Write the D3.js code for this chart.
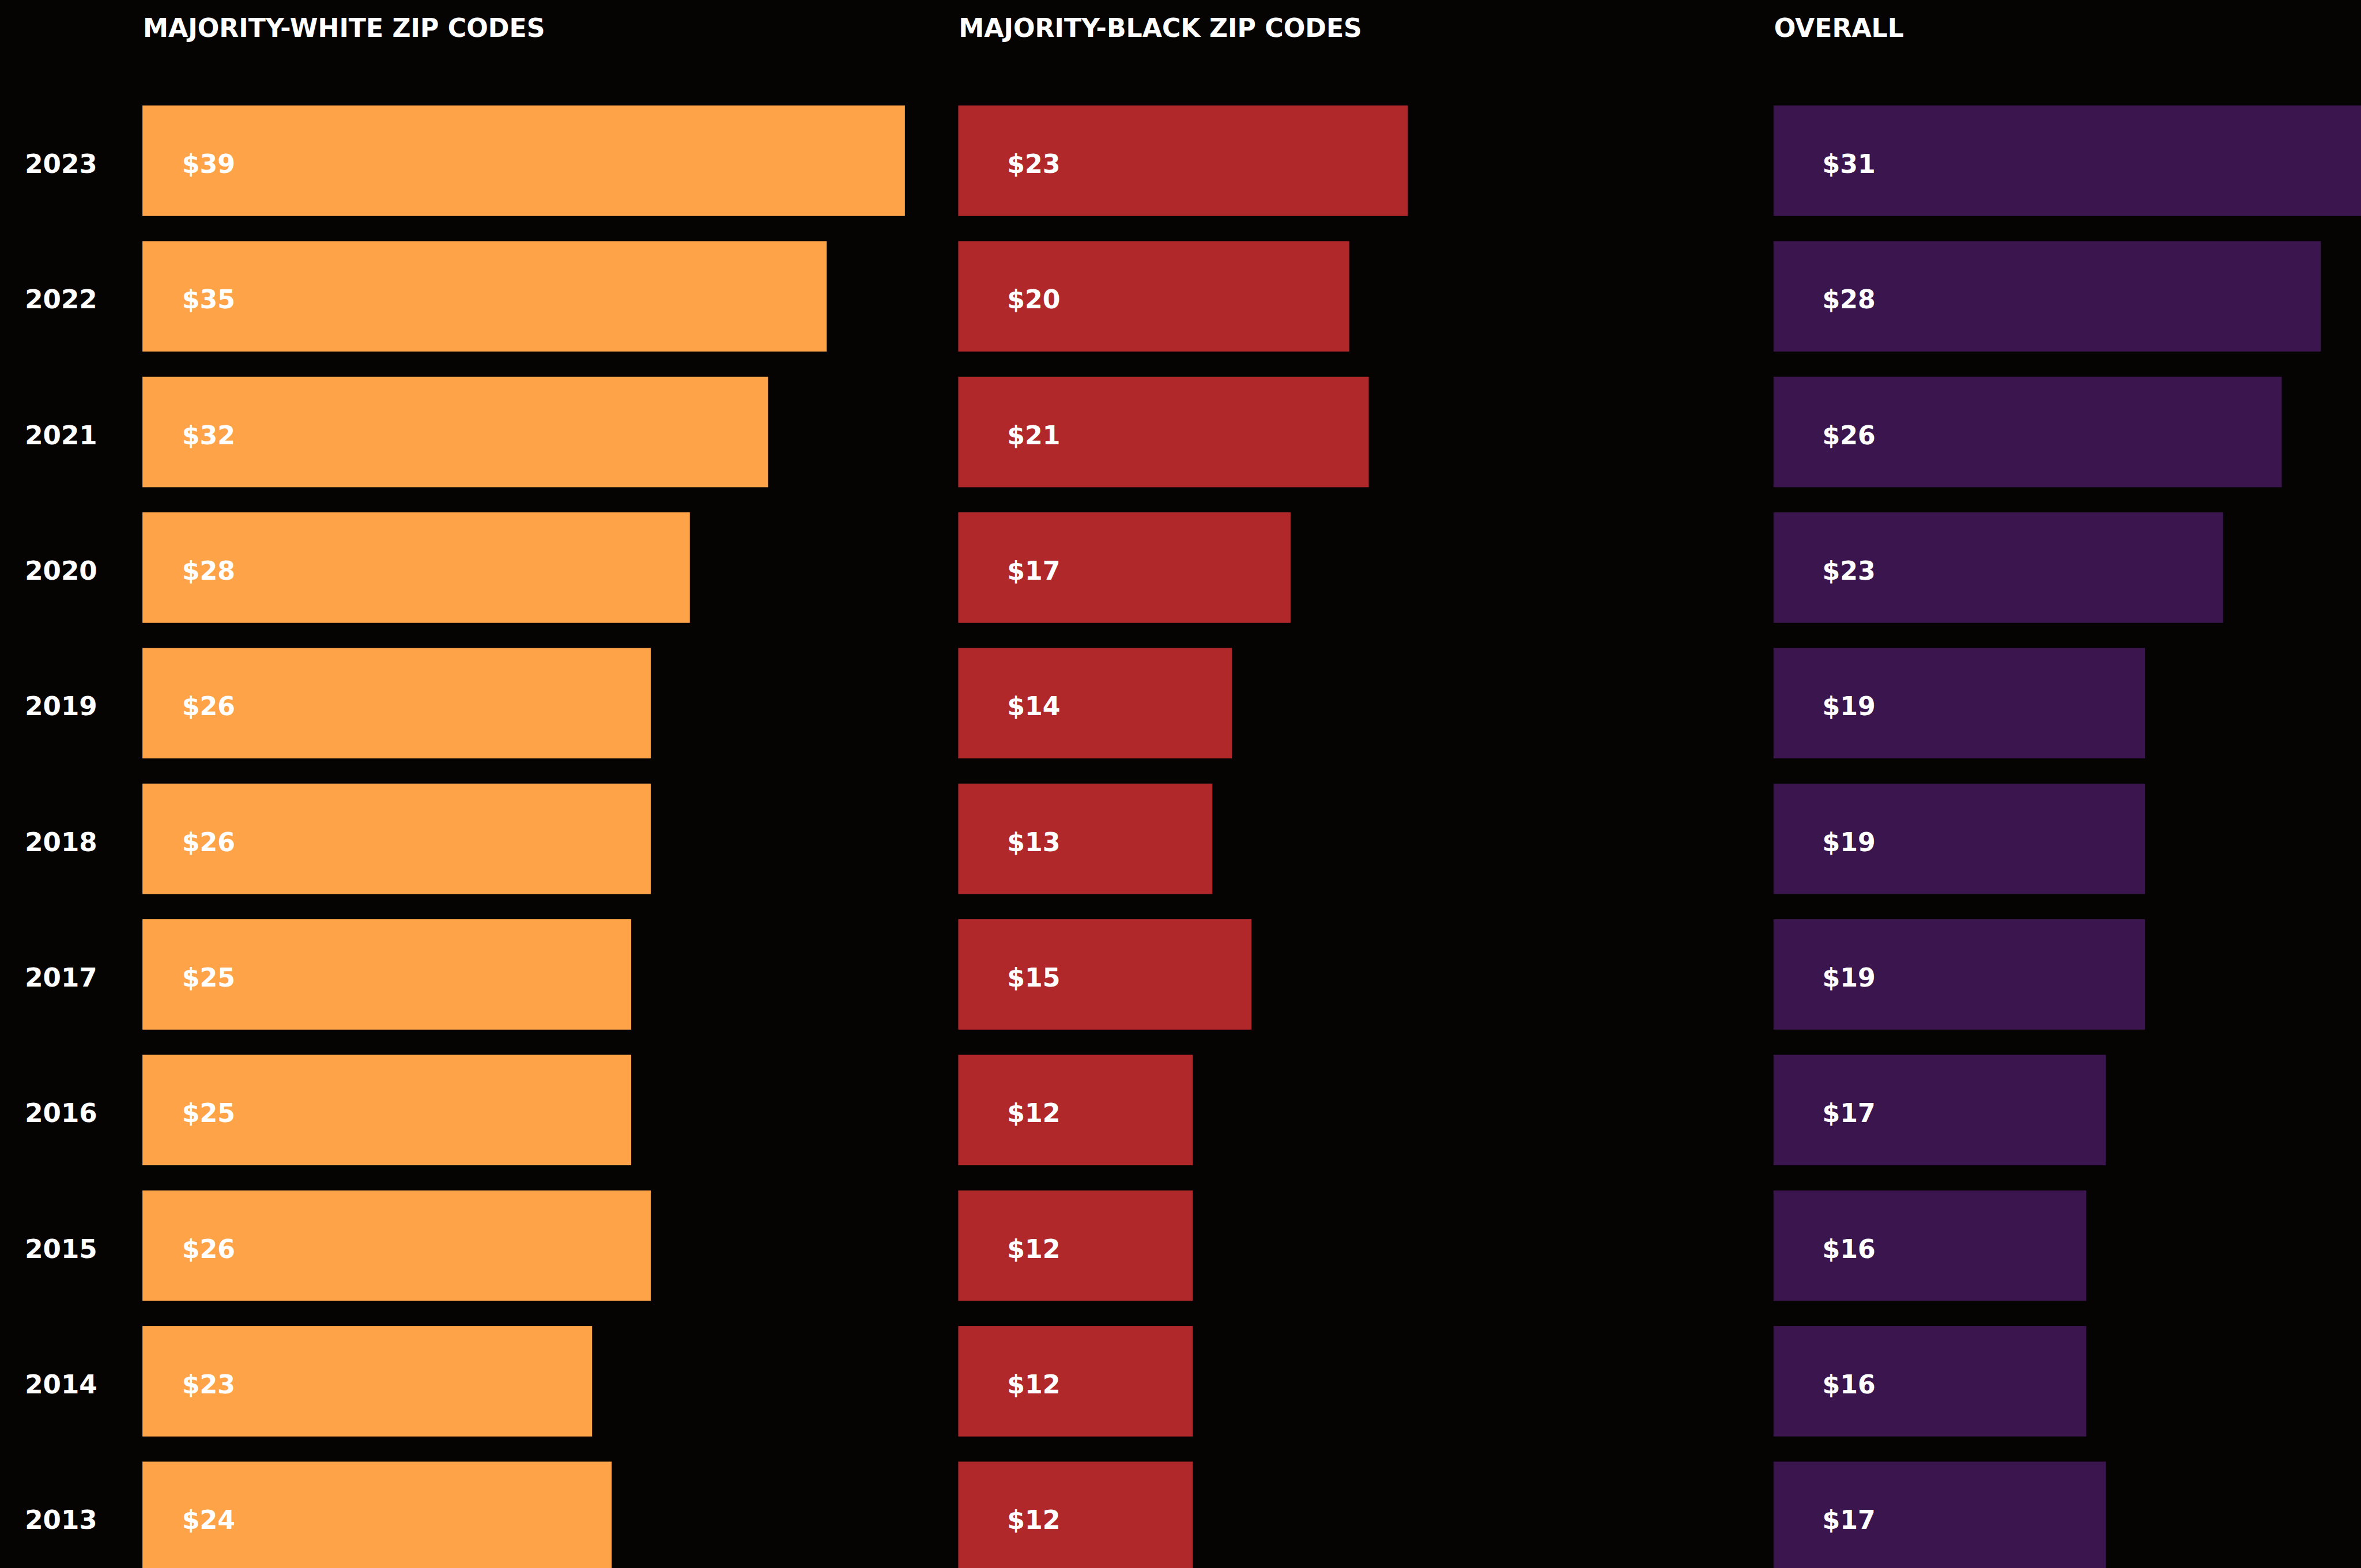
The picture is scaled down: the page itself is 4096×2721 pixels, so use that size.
<!DOCTYPE html>
<html>
<head>
<meta charset="utf-8">
<script src="https://cdn.jsdelivr.net/npm/d3@7"></script>
<style>
  html, body { margin: 0; padding: 0; background: #050403; overflow: hidden; }
  svg { display: block; }
  text { font-family: "DejaVu Sans", sans-serif; font-weight: bold; fill: #ffffff; }
</style>
</head>
<body>
<svg id="chart"></svg>
<script>
// Median value per year, by ZIP code group
const years = ["2023", "2022", "2021", "2020", "2019", "2018", "2017", "2016", "2015", "2014", "2013"];
const whiteZip = [39, 35, 32, 28, 26, 26, 25, 25, 26, 23, 24];
const blackZip = [23, 20, 21, 17, 14, 13, 15, 12, 12, 12, 12];
const overall  = [31, 28, 26, 23, 19, 19, 19, 17, 16, 16, 17];
const panelTitles = ["MAJORITY-WHITE ZIP CODES", "MAJORITY-BLACK ZIP CODES", "OVERALL"];
const panelSeries = [whiteZip, blackZip, overall];

// Layout is laid out on a 4541 x 3017 artboard, then scaled to the window
const W = 4096, H = 2721;
const baseW = 4541, baseH = 3017;
const k = W / baseW;

const barColors = ["#FFA348", "#B1282B", "#3A154E"];
const panelLeft = [274, 1843, 3411];
const labelInset = [76, 94, 94];

const svg = d3.select("#chart")
  .attr("width", W)
  .attr("height", H)
  .attr("viewBox", `0 0 ${W} ${H}`);

svg.append("rect").attr("width", W).attr("height", H).attr("fill", "#050403");

const root = svg.append("g").attr("transform", `scale(${k})`);

const y = d3.scaleBand()
  .domain(years)
  .range([203, 203 + 2821.5])
  .paddingInner(0.1855)
  .paddingOuter(0);

const x = d3.scaleLinear().domain([0, 40]).range([0, 1504]);

const textDrop = 23.5;

// Year labels down the left side
root.append("g")
  .selectAll("text")
  .data(years)
  .join("text")
  .attr("x", 187)
  .attr("y", d => y(d) + y.bandwidth() / 2 + textDrop)
  .attr("text-anchor", "end")
  .attr("font-size", 50)
  .text(d => d);

panelSeries.forEach((series, i) => {
  const g = root.append("g").attr("transform", `translate(${panelLeft[i]},0)`);

  g.append("text")
    .attr("x", 1)
    .attr("y", 71)
    .attr("font-size", 49)
    .text(panelTitles[i]);

  const rows = years.map((yr, j) => ({ year: yr, value: series[j] }));

  g.selectAll("rect")
    .data(rows)
    .join("rect")
    .attr("x", x(0))
    .attr("y", d => y(d.year))
    .attr("width", d => x(d.value) - x(0))
    .attr("height", y.bandwidth())
    .attr("fill", barColors[i]);

  g.selectAll("text.value")
    .data(rows)
    .join("text")
    .attr("class", "value")
    .attr("x", labelInset[i])
    .attr("y", d => y(d.year) + y.bandwidth() / 2 + textDrop)
    .attr("font-size", 49)
    .text(d => "$" + d3.format("d")(d.value));
});
</script>
</body>
</html>
